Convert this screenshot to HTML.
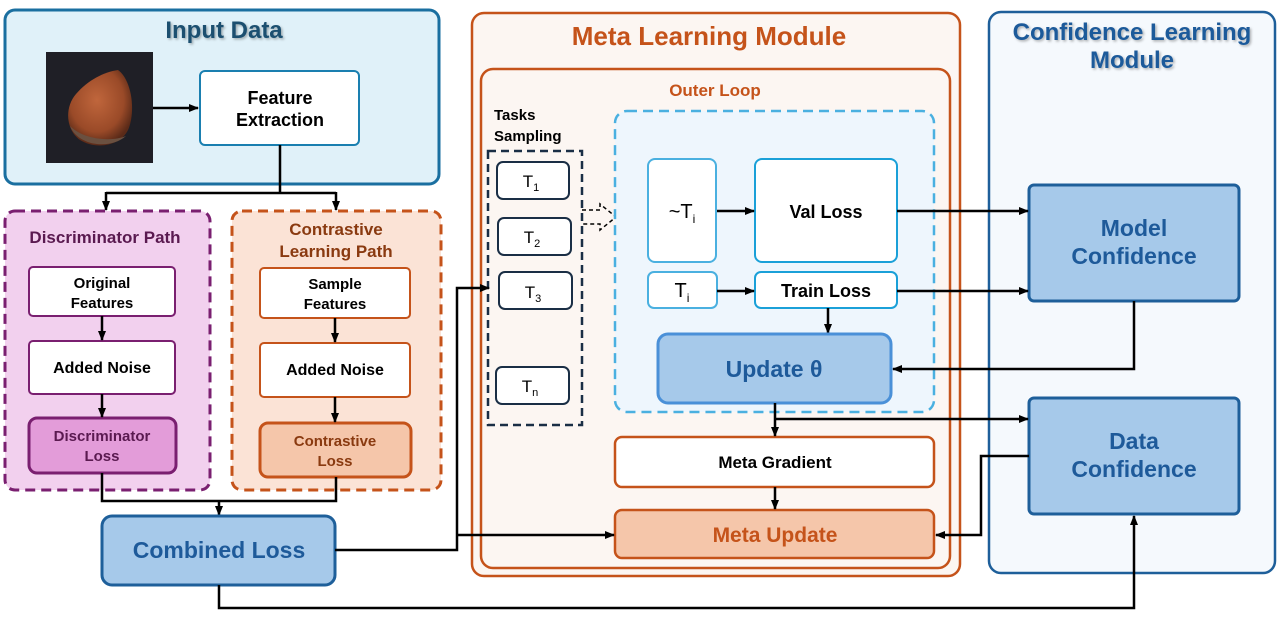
<!DOCTYPE html>
<html><head><meta charset="utf-8"><style>
html,body{margin:0;padding:0;background:#fff;width:1280px;height:618px;overflow:hidden}
svg{display:block}
text{font-family:"Liberation Sans",sans-serif;font-weight:bold;text-anchor:middle}
text.n{font-weight:normal}
</style></head><body>
<svg width="1280" height="618" viewBox="0 0 1280 618" xmlns="http://www.w3.org/2000/svg">
<defs>
<marker id="a" markerWidth="10" markerHeight="10" refX="9" refY="5" orient="auto" markerUnits="userSpaceOnUse"><path d="M0,1 L10,5 L0,9 z" fill="#000"/></marker>
<filter id="sh" x="-10%" y="-30%" width="120%" height="160%"><feDropShadow dx="1.5" dy="1.5" stdDeviation="1.2" flood-color="#000" flood-opacity="0.3"/></filter>
<radialGradient id="nut" cx="45%" cy="40%" r="60%"><stop offset="0" stop-color="#c0663c"/><stop offset="0.7" stop-color="#9a4a28"/><stop offset="1" stop-color="#5a2a18"/></radialGradient>
</defs>

<!-- Input Data -->
<rect x="5" y="10" width="434" height="174" rx="10" fill="#e0f1f9" stroke="#1a6fa0" stroke-width="3"/>
<text x="224" y="38" font-size="24" fill="#1a4f70" filter="url(#sh)">Input Data</text>
<rect x="46" y="52" width="107" height="111" fill="#1f1f26"/>
<path d="M118,70 C132,80 136,112 128,130 C120,146 96,150 80,140 C66,130 64,108 76,94 C88,80 104,72 118,70 Z" fill="url(#nut)"/>
<path d="M70,126 C78,146 110,150 126,136 C112,142 84,140 70,126Z" fill="#6a5040"/>
<rect x="200" y="71" width="159" height="74" rx="5" fill="#fff" stroke="#1a7fb0" stroke-width="2"/>
<text x="280" y="104" font-size="18" fill="#000">Feature</text>
<text x="280" y="126" font-size="18" fill="#000">Extraction</text>
<line x1="153" y1="108" x2="198" y2="108" stroke="#000" stroke-width="2.5" marker-end="url(#a)"/>
<path d="M280,145 V193 M106,193 H336" stroke="#000" stroke-width="2.5" fill="none"/>
<line x1="106" y1="192" x2="106" y2="210" stroke="#000" stroke-width="2.5" marker-end="url(#a)"/>
<line x1="336" y1="192" x2="336" y2="210" stroke="#000" stroke-width="2.5" marker-end="url(#a)"/>

<!-- Discriminator path -->
<rect x="5" y="211" width="205" height="279" rx="10" fill="#f2d0ee" stroke="#7a1f70" stroke-width="3" stroke-dasharray="10,6"/>
<text x="105" y="243" font-size="17" fill="#5a1a50">Discriminator Path</text>
<rect x="29" y="267" width="146" height="49" rx="4" fill="#fff" stroke="#7a1f70" stroke-width="2"/>
<text x="102" y="288" font-size="15" fill="#000">Original</text>
<text x="102" y="308" font-size="15" fill="#000">Features</text>
<rect x="29" y="341" width="146" height="53" rx="4" fill="#fff" stroke="#7a1f70" stroke-width="2"/>
<text x="102" y="373" font-size="16" fill="#000">Added Noise</text>
<rect x="29" y="418" width="147" height="55" rx="8" fill="#e39cd9" stroke="#7a1f70" stroke-width="3"/>
<text x="102" y="441" font-size="15" fill="#5a1a50">Discriminator</text>
<text x="102" y="461" font-size="15" fill="#5a1a50">Loss</text>
<line x1="102" y1="316" x2="102" y2="340" stroke="#000" stroke-width="2.5" marker-end="url(#a)"/>
<line x1="102" y1="394" x2="102" y2="417" stroke="#000" stroke-width="2.5" marker-end="url(#a)"/>

<!-- Contrastive path -->
<rect x="232" y="211" width="209" height="279" rx="10" fill="#fbe3d6" stroke="#c5531a" stroke-width="3" stroke-dasharray="10,6"/>
<text x="336" y="235" font-size="17" fill="#8a3a10">Contrastive</text>
<text x="336" y="257" font-size="17" fill="#8a3a10">Learning Path</text>
<rect x="260" y="268" width="150" height="50" rx="4" fill="#fff" stroke="#c5531a" stroke-width="2"/>
<text x="335" y="289" font-size="15" fill="#000">Sample</text>
<text x="335" y="309" font-size="15" fill="#000">Features</text>
<rect x="260" y="343" width="150" height="54" rx="4" fill="#fff" stroke="#c5531a" stroke-width="2"/>
<text x="335" y="375" font-size="16" fill="#000">Added Noise</text>
<rect x="260" y="423" width="151" height="54" rx="8" fill="#f5c6aa" stroke="#c5531a" stroke-width="3"/>
<text x="335" y="446" font-size="15" fill="#8a3a10">Contrastive</text>
<text x="335" y="466" font-size="15" fill="#8a3a10">Loss</text>
<line x1="335" y1="318" x2="335" y2="342" stroke="#000" stroke-width="2.5" marker-end="url(#a)"/>
<line x1="335" y1="397" x2="335" y2="422" stroke="#000" stroke-width="2.5" marker-end="url(#a)"/>

<path d="M102,473 V501 H336 V477" stroke="#000" stroke-width="2.5" fill="none"/>
<line x1="219" y1="500" x2="219" y2="515" stroke="#000" stroke-width="2.5" marker-end="url(#a)"/>

<!-- Combined Loss -->
<rect x="102" y="516" width="233" height="69" rx="10" fill="#a6c9ea" stroke="#1e5f9a" stroke-width="3"/>
<text x="219" y="558" font-size="23" fill="#1e5a9a">Combined Loss</text>

<!-- Meta learning module -->
<rect x="472" y="13" width="488" height="563" rx="12" fill="#fcf6f2" stroke="#c5531a" stroke-width="2.5"/>
<text x="709" y="45" font-size="26" fill="#c5531a">Meta Learning Module</text>
<rect x="481" y="69" width="469" height="499" rx="12" fill="#fcf6f2" stroke="#c5531a" stroke-width="2.5"/>
<text x="715" y="96" font-size="17" fill="#c5531a">Outer Loop</text>
<text x="494" y="120" font-size="15" fill="#000" style="text-anchor:start">Tasks</text>
<text x="494" y="141" font-size="15" fill="#000" style="text-anchor:start">Sampling</text>
<rect x="488" y="151" width="94" height="274" fill="none" stroke="#1a2e45" stroke-width="2.5" stroke-dasharray="8,5"/>
<g stroke="#1a2e45" stroke-width="2" fill="#fff">
<rect x="497" y="162" width="72" height="37" rx="6"/>
<rect x="498" y="218" width="73" height="37" rx="6"/>
<rect x="499" y="272" width="73" height="37" rx="6"/>
<rect x="496" y="367" width="73" height="37" rx="6"/>
</g>
<text class="n" x="531" y="187" font-size="17" fill="#000">T<tspan font-size="11" dy="4">1</tspan></text>
<text class="n" x="532" y="243" font-size="17" fill="#000">T<tspan font-size="11" dy="4">2</tspan></text>
<text class="n" x="533" y="298" font-size="17" fill="#000">T<tspan font-size="11" dy="4">3</tspan></text>
<text class="n" x="530" y="392" font-size="17" fill="#000">T<tspan font-size="11" dy="4">n</tspan></text>
<path d="M582,210 H600 V204 L616,217 L600,230 V224 H582" fill="none" stroke="#000" stroke-width="1.5" stroke-dasharray="4,3"/>

<rect x="615" y="111" width="319" height="301" rx="12" fill="#eef6fd" stroke="#4ab0e0" stroke-width="2.5" stroke-dasharray="10,6"/>
<rect x="648" y="159" width="68" height="103" rx="7" fill="#fff" stroke="#4ab0e0" stroke-width="2"/>
<text class="n" x="682" y="218" font-size="20" fill="#000">~T<tspan font-size="12" dy="5">i</tspan></text>
<rect x="755" y="159" width="142" height="103" rx="7" fill="#fff" stroke="#1aa0d8" stroke-width="2"/>
<text x="826" y="218" font-size="18" fill="#000">Val Loss</text>
<rect x="648" y="272" width="69" height="36" rx="6" fill="#fff" stroke="#4ab0e0" stroke-width="2"/>
<text class="n" x="682" y="297" font-size="20" fill="#000">T<tspan font-size="12" dy="5">i</tspan></text>
<rect x="755" y="272" width="142" height="36" rx="6" fill="#fff" stroke="#1aa0d8" stroke-width="2"/>
<text x="826" y="297" font-size="18" fill="#000">Train Loss</text>
<line x1="717" y1="211" x2="754" y2="211" stroke="#000" stroke-width="2.5" marker-end="url(#a)"/>
<line x1="717" y1="291" x2="754" y2="291" stroke="#000" stroke-width="2.5" marker-end="url(#a)"/>
<line x1="828" y1="308" x2="828" y2="333" stroke="#000" stroke-width="2.5" marker-end="url(#a)"/>
<rect x="658" y="334" width="233" height="69" rx="10" fill="#a6c9ea" stroke="#4a90d8" stroke-width="3"/>
<text x="774" y="377" font-size="23" fill="#1e5a9a">Update θ</text>

<rect x="615" y="437" width="319" height="50" rx="7" fill="#fff" stroke="#c5531a" stroke-width="2.5"/>
<text x="775" y="468" font-size="17" fill="#000">Meta Gradient</text>
<rect x="615" y="510" width="319" height="48" rx="7" fill="#f5c6aa" stroke="#c5531a" stroke-width="2.5"/>
<text x="775" y="542" font-size="21" fill="#c5531a">Meta Update</text>
<line x1="775" y1="403" x2="775" y2="436" stroke="#000" stroke-width="2.5" marker-end="url(#a)"/>
<line x1="775" y1="487" x2="775" y2="509" stroke="#000" stroke-width="2.5" marker-end="url(#a)"/>

<!-- Confidence module -->
<rect x="989" y="12" width="286" height="561" rx="12" fill="#f5f9fd" stroke="#1e5f9a" stroke-width="2.5"/>
<text x="1132" y="40" font-size="24" fill="#1e5a9a" filter="url(#sh)">Confidence Learning</text>
<text x="1132" y="68" font-size="24" fill="#1e5a9a" filter="url(#sh)">Module</text>
<rect x="1029" y="185" width="210" height="116" rx="5" fill="#a6c9ea" stroke="#1e5f9a" stroke-width="3"/>
<text x="1134" y="236" font-size="23" fill="#1e5a9a">Model</text>
<text x="1134" y="264" font-size="23" fill="#1e5a9a">Confidence</text>
<rect x="1029" y="398" width="210" height="116" rx="5" fill="#a6c9ea" stroke="#1e5f9a" stroke-width="3"/>
<text x="1134" y="449" font-size="23" fill="#1e5a9a">Data</text>
<text x="1134" y="477" font-size="23" fill="#1e5a9a">Confidence</text>

<!-- Connectors -->
<g stroke="#000" stroke-width="2.5" fill="none">
<line x1="897" y1="211" x2="1028" y2="211" marker-end="url(#a)"/>
<line x1="897" y1="291" x2="1028" y2="291" marker-end="url(#a)"/>
<path d="M1134,301 V369 H893" marker-end="url(#a)"/>
<path d="M775,419 H1028" marker-end="url(#a)"/>
<path d="M1029,456 H981 V535 H936" marker-end="url(#a)"/>
<path d="M335,550 H457 V288 H489" marker-end="url(#a)"/>
<path d="M457,535 H614" marker-end="url(#a)"/>
<path d="M219,585 V608 H1134 V516" marker-end="url(#a)"/>
</g>
</svg>
</body></html>
